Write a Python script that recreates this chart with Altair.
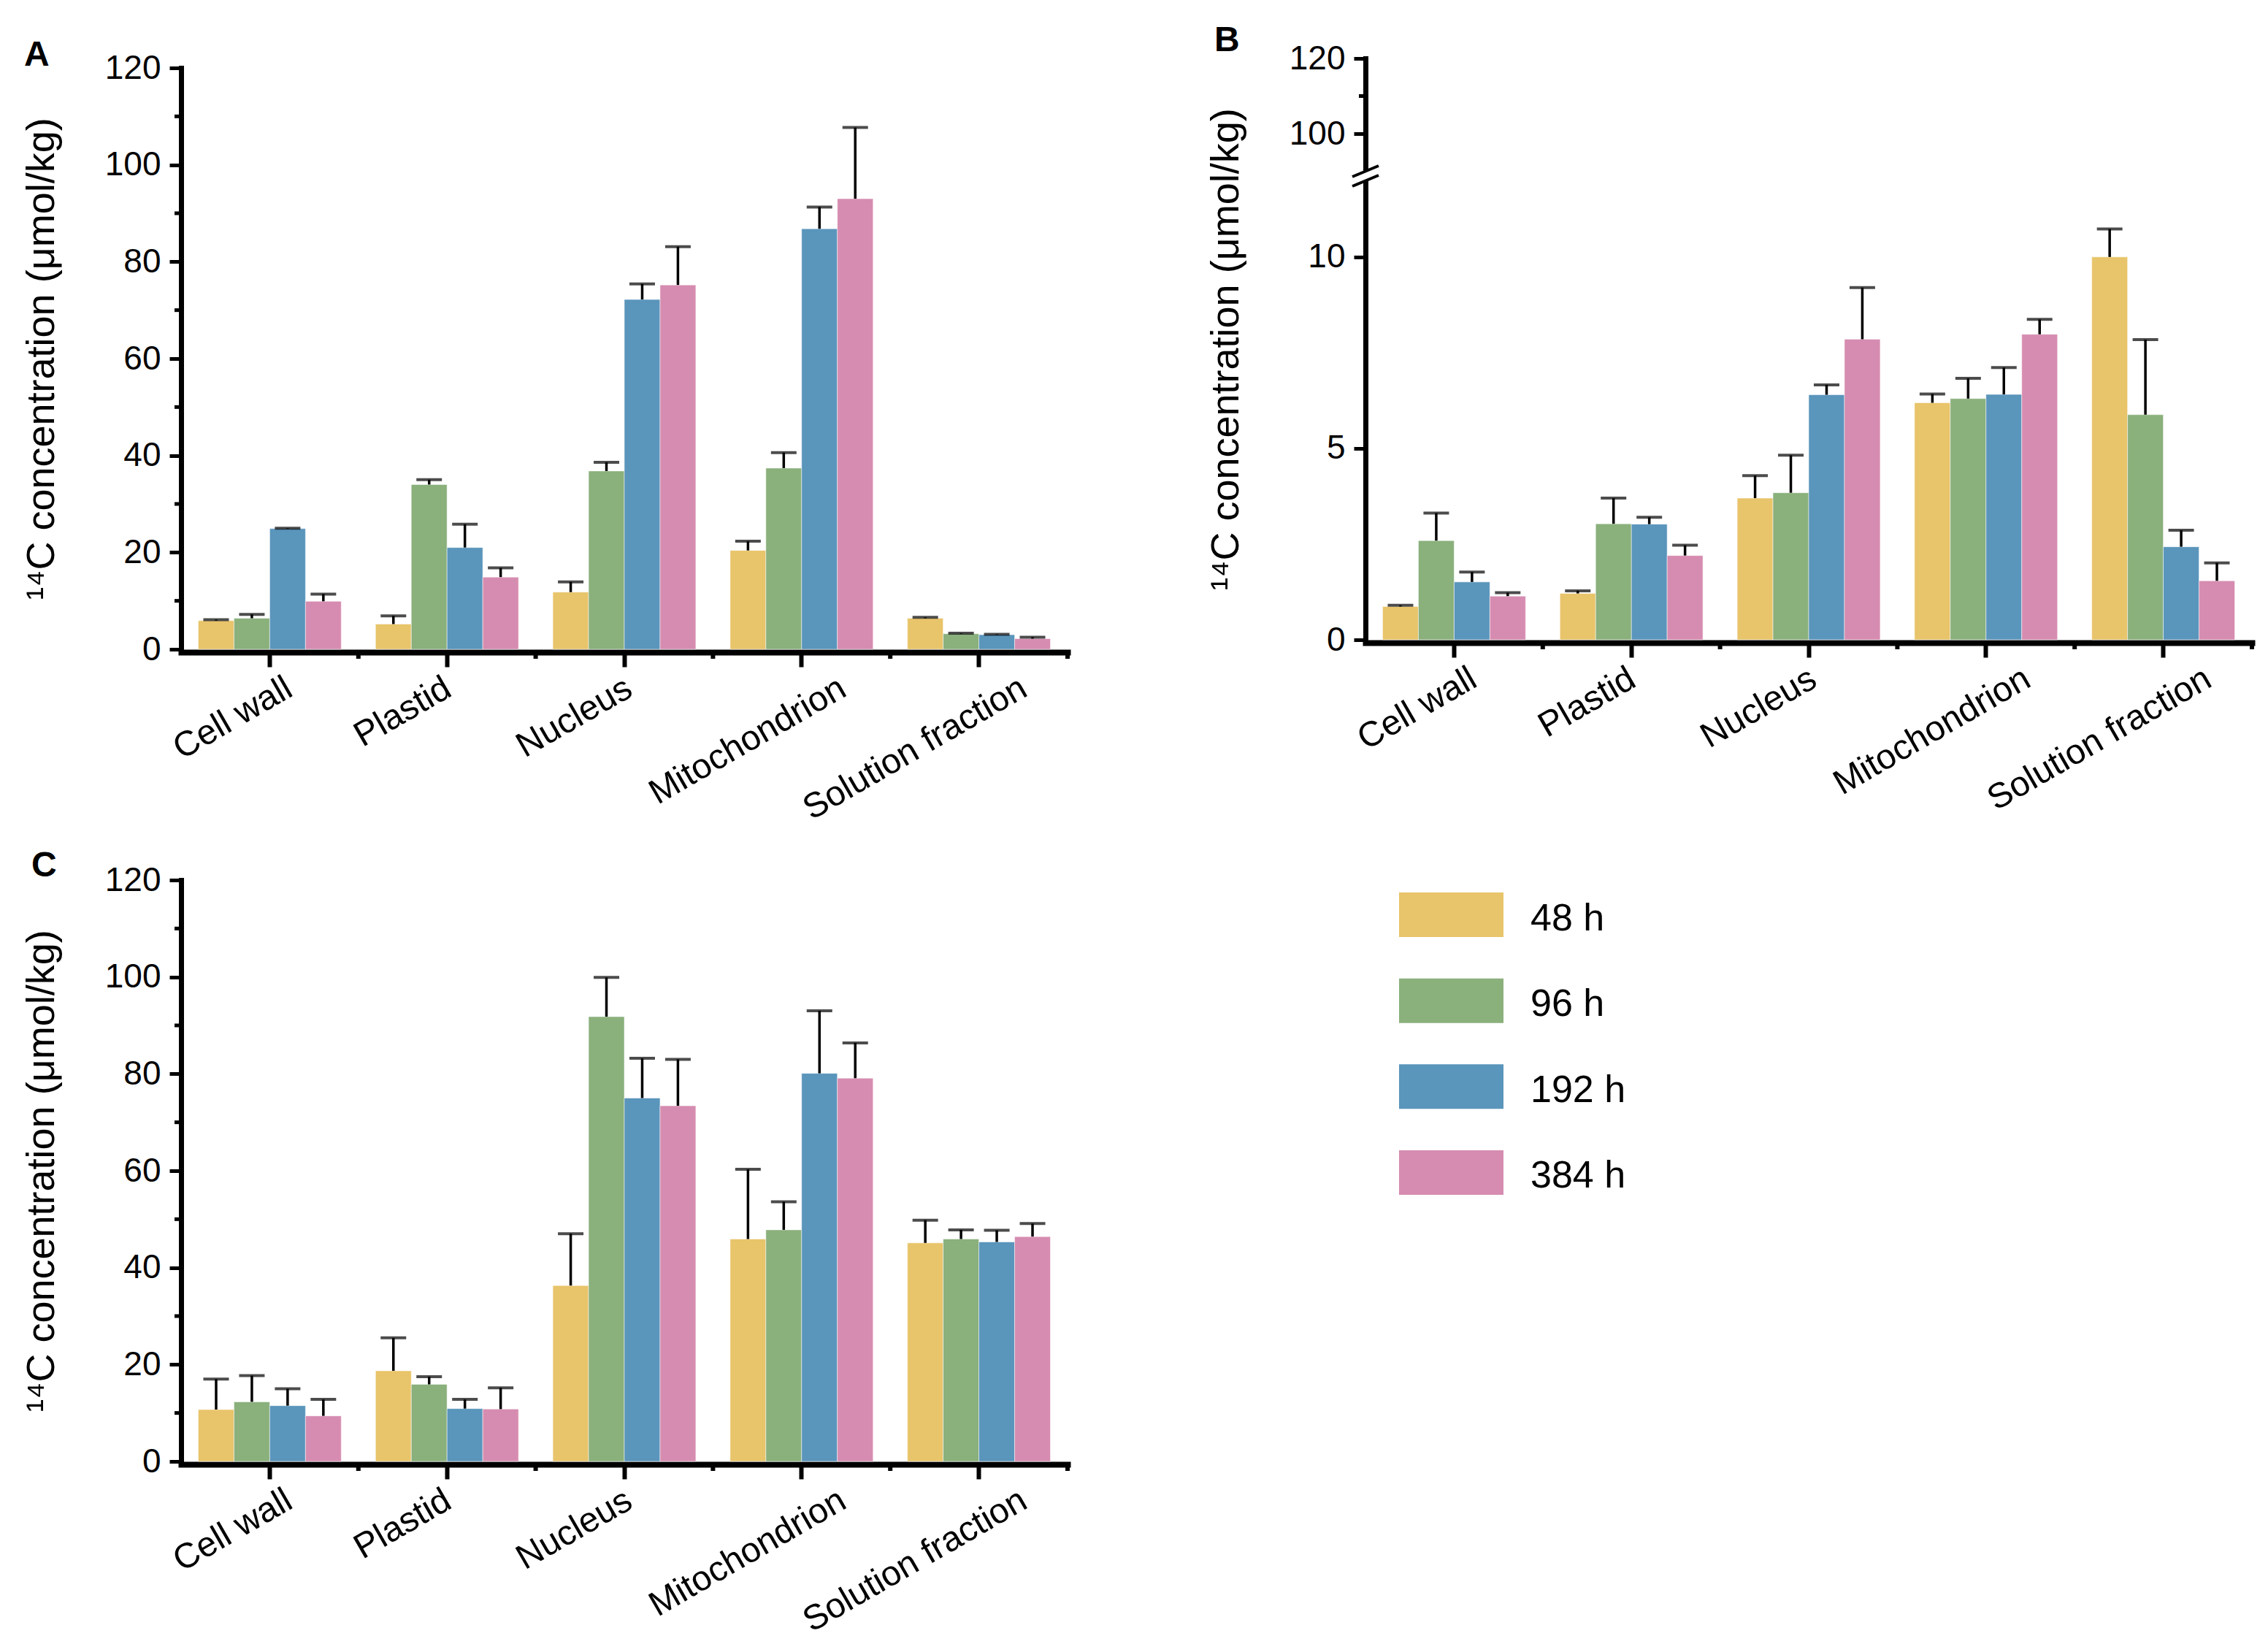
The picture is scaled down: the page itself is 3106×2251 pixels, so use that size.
import altair as alt
import pandas as pd

categories = ["Cell wall", "Plastid", "Nucleus", "Mitochondrion", "Solution fraction"]
series = ["48 h", "96 h", "192 h", "384 h"]
colors = ["#E8C46A", "#8AB07C", "#5A95BB", "#D68CB0"]

# Panel A: means and upper error (SD) per series, ordered by category
a_mean = {
    "48 h": [5.9, 5.2, 11.8, 20.4, 6.4],
    "96 h": [6.4, 34.0, 36.8, 37.4, 3.2],
    "192 h": [24.9, 21.0, 72.2, 86.8, 3.0],
    "384 h": [9.9, 14.9, 75.2, 93.0, 2.2],
}
a_err = {
    "48 h": [0.2, 1.7, 2.1, 1.9, 0.2],
    "96 h": [0.8, 1.0, 1.8, 3.2, 0.1],
    "192 h": [0.1, 4.8, 3.2, 4.5, 0.1],
    "384 h": [1.5, 1.9, 7.9, 14.7, 0.3],
}
# Panel B
b_mean = {
    "48 h": [0.87, 1.21, 3.70, 6.19, 10.0],
    "96 h": [2.59, 3.03, 3.84, 6.30, 5.88],
    "192 h": [1.51, 3.02, 6.40, 6.41, 2.43],
    "384 h": [1.14, 2.20, 7.85, 7.98, 1.54],
}
b_err = {
    "48 h": [0.03, 0.07, 0.59, 0.23, 0.73],
    "96 h": [0.72, 0.67, 0.98, 0.53, 1.96],
    "192 h": [0.26, 0.18, 0.26, 0.70, 0.43],
    "384 h": [0.09, 0.27, 1.35, 0.39, 0.47],
}
# Panel C
c_mean = {
    "48 h": [10.7, 18.7, 36.3, 45.9, 45.1],
    "96 h": [12.3, 15.9, 91.8, 47.8, 45.9],
    "192 h": [11.5, 10.9, 75.0, 80.1, 45.3],
    "384 h": [9.4, 10.8, 73.4, 79.1, 46.4],
}
c_err = {
    "48 h": [6.3, 6.8, 10.7, 14.4, 4.7],
    "96 h": [5.4, 1.6, 8.1, 5.8, 1.9],
    "192 h": [3.5, 1.9, 8.2, 12.9, 2.4],
    "384 h": [3.4, 4.4, 9.6, 7.3, 2.7],
}

ticks_ac = [0, 20, 40, 60, 80, 100, 120]
minor_ac = [10, 30, 50, 70, 90, 110]
ticks_b = [0, 5, 10, 100, 120]
minor_b = [110]

W, H = 1214, 796
STEP = W / len(categories)
FONT = "Liberation Sans, Arial, DejaVu Sans, sans-serif"
YTITLE = "\u00b9\u2074C concentration (\u03bcmol/kg)"

# per-label horizontal nudge of the rotated category labels (axis styling)
LABEL_OFFSET = {
    "condition": [
        {"test": "datum.value == 'Cell wall'", "value": 15},
        {"test": "datum.value == 'Plastid'", "value": -10},
        {"test": "datum.value == 'Nucleus'", "value": -5},
        {"test": "datum.value == 'Mitochondrion'", "value": 45},
    ],
    "value": 50,
}


def make_df(means, errs):
    rows = []
    for s in series:
        for i, c in enumerate(categories):
            m = means[s][i]
            rows.append({"cat": c, "series": s, "mean": m, "upper": m + errs[s][i]})
    return pd.DataFrame(rows)


def panel(letter, letter_pos, means, errs, yscale, yvals, minor_vals,
          height, broken=False):
    df = make_df(means, errs)
    yaxis = alt.Axis(values=yvals, title=YTITLE, format="d", grid=False,
                     titleFontSize=54, titleFont=FONT, titleFontWeight="normal",
                     titleColor="black", titlePadding=59,
                     labelFontSize=46, labelFont=FONT, labelColor="black",
                     labelPadding=12, domainColor="black", domainWidth=7,
                     domainCap="square", tickColor="black", tickWidth=5,
                     tickSize=16)
    xaxis = alt.Axis(title=None, labelAngle=-30, labelAlign="right",
                     labelBaseline="top", labelOffset=LABEL_OFFSET,
                     labelPadding=5, labelLimit=0,
                     labelFontSize=48, labelFont=FONT, labelColor="black",
                     domainColor="black", domainWidth=8, domainCap="square",
                     tickColor="black", tickWidth=6, tickSize=20, offset=4,
                     grid=False)
    x = alt.X("cat:N", sort=categories, axis=xaxis,
              scale=alt.Scale(paddingInner=0, paddingOuter=0))
    xo = alt.XOffset("series:N", sort=series,
                     scale=alt.Scale(paddingInner=0, paddingOuter=0.48))
    color = alt.Color("series:N", sort=series, legend=None,
                      scale=alt.Scale(domain=series, range=colors))

    def yenc(field):
        return alt.Y(field, scale=yscale, axis=yaxis)

    base = alt.Chart(df)
    bars = base.mark_bar(stroke="white", strokeWidth=1, strokeOpacity=0.5).encode(
        x=x, xOffset=xo, y=yenc("mean:Q"), color=color)
    stems = base.mark_rule(color="black", strokeWidth=3.5).encode(
        x=x, xOffset=xo, y=yenc("mean:Q"), y2="upper:Q")
    caps = base.mark_tick(color="black", size=35, thickness=4).encode(
        x=x, xOffset=xo, y=yenc("upper:Q"))

    minor_df = pd.DataFrame({"v": minor_vals})
    yminor = alt.Chart(minor_df).mark_rule(color="black", strokeWidth=5).encode(
        y=yenc("v:Q"), x=alt.value(-9), x2=alt.value(-3))

    cat_df = pd.DataFrame({"cat": categories})
    xminor = alt.Chart(cat_df).mark_rule(color="black", strokeWidth=6,
                                         xOffset=STEP / 2).encode(
        x=x, y=alt.value(height + 4), y2=alt.value(height + 13))

    lab = alt.Chart(pd.DataFrame({"t": [letter]})).mark_text(
        align="left", baseline="alphabetic", fontSize=48, fontWeight="bold",
        font=FONT, color="black").encode(
        text="t:N", x=alt.value(letter_pos[0]), y=alt.value(letter_pos[1]))

    layers = [bars, stems, caps, yminor, xminor, lab]
    if broken:
        gap_df = pd.DataFrame({"lo": [12], "hi": [90]})
        mask = alt.Chart(gap_df).mark_rect(color="white").encode(
            y=yenc("lo:Q"), y2="hi:Q", x=alt.value(-8), x2=alt.value(8))
        sl1 = alt.Chart(gap_df).mark_rule(color="black", strokeWidth=4).encode(
            x=alt.value(-18), x2=alt.value(18), y=alt.value(175), y2=alt.value(160))
        sl2 = alt.Chart(gap_df).mark_rule(color="black", strokeWidth=4).encode(
            x=alt.value(-18), x2=alt.value(18), y=alt.value(162), y2=alt.value(147))
        layers += [mask, sl1, sl2]
    return alt.layer(*layers).properties(width=W, height=height)


HA = H + 13
scale_a = alt.Scale(domain=[0, 120], range=[HA, 13], nice=False, zero=True)
scale_c = alt.Scale(domain=[0, 120], nice=False, zero=True)
scale_b = alt.Scale(domain=[0, 12, 90, 120], range=[H, 167, 154.5, 0],
                    nice=False, zero=False)

pA = panel("A", (-215, 10), a_mean, a_err, scale_a, ticks_ac, minor_ac, HA)
pB = panel("B", (-207, -10), b_mean, b_err, scale_b, ticks_b, minor_b, H,
           broken=True)
pC = panel("C", (-205, -5), c_mean, c_err, scale_c, ticks_ac, minor_ac, H)

leg_df = pd.DataFrame({"series": series})
leg_y = alt.Y("series:N", sort=series, axis=None,
              scale=alt.Scale(paddingInner=0.481, paddingOuter=0.145))
leg_color = alt.Color("series:N", sort=series, legend=None,
                      scale=alt.Scale(domain=series, range=colors))
sw = alt.Chart(leg_df).mark_rect().encode(
    y=leg_y, x=alt.value(0), x2=alt.value(143), color=leg_color)
tx = alt.Chart(leg_df).mark_text(align="left", baseline="middle", dy=5,
                                 fontSize=52, font=FONT, color="black").encode(
    y=leg_y, x=alt.value(180), text="series:N")
legend = alt.layer(sw, tx).properties(width=320, height=448)

top = alt.hconcat(pA, pB, spacing=186)
bottom = alt.hconcat(pC, legend, spacing=450)
chart = alt.vconcat(top, bottom, spacing=30).configure(
    padding={"left": 22, "top": 24, "right": 5, "bottom": 5},
    background="white").configure_view(strokeWidth=0)

chart.save("out.html", embed_options={"renderer": "svg", "actions": False})
